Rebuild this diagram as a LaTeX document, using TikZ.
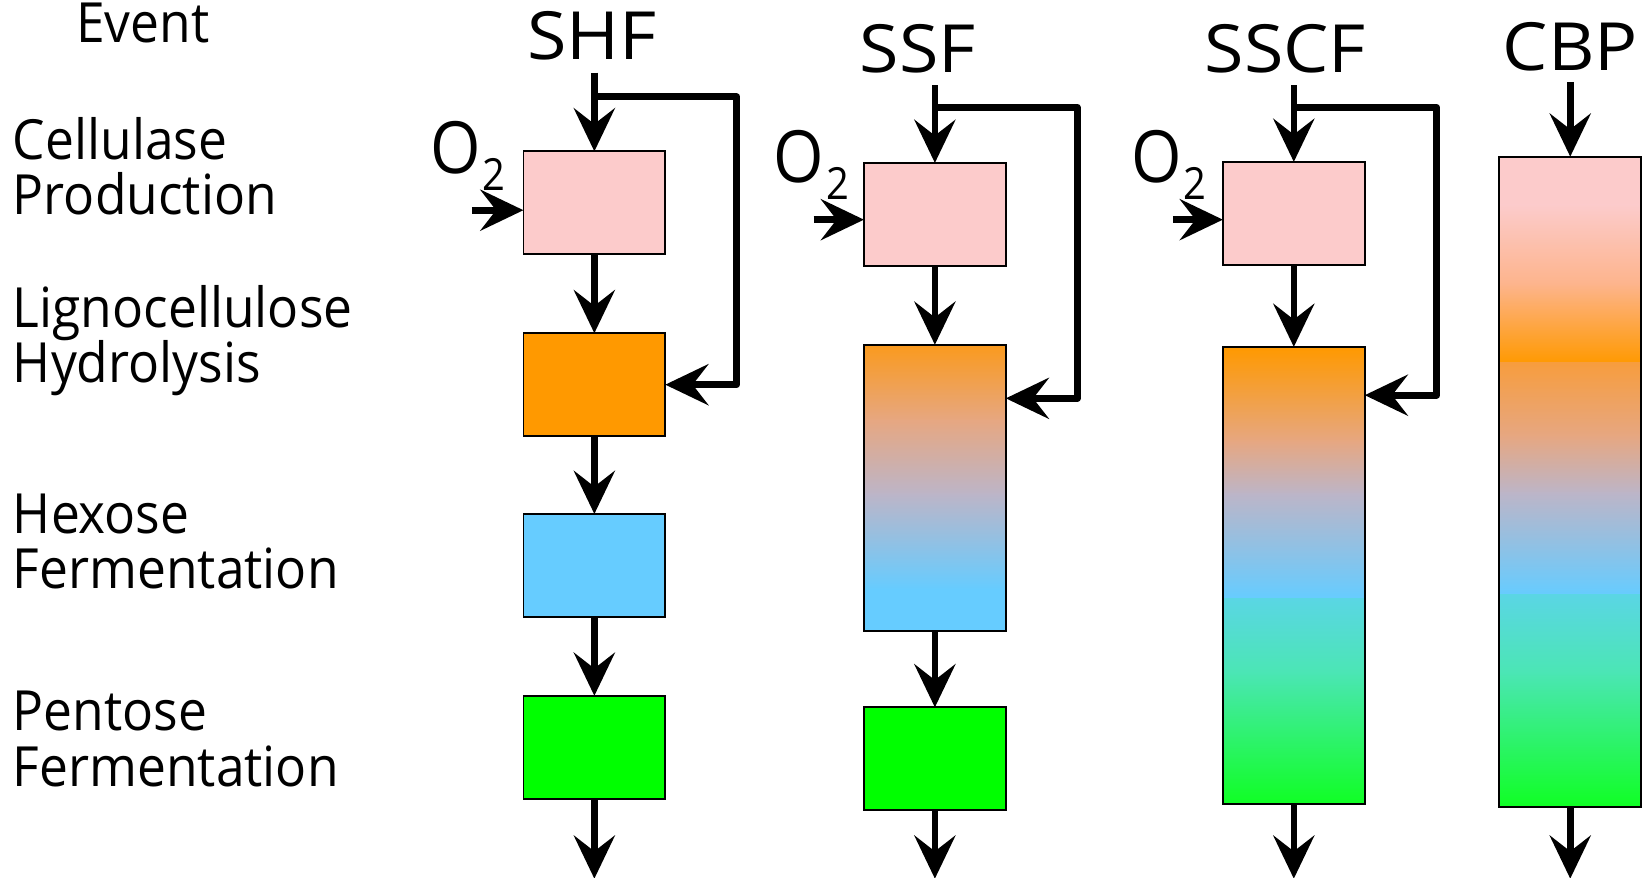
\documentclass[tikz,border=0pt]{standalone}
\usepackage{fontspec}
\setmainfont{Open Sans}
\newfontfamily\lblfont[FakeStretch=0.93]{Open Sans}
\newfontfamily\ttlfont[FakeStretch=1.08]{Open Sans}
\newfontfamily\oxfont[FakeStretch=0.9]{Open Sans}
\usetikzlibrary{arrows.meta}
\definecolor{pinkc}{RGB}{252,203,203}
\definecolor{orangec}{RGB}{255,153,0}
\definecolor{bluec}{RGB}{102,204,255}
\definecolor{greenc}{RGB}{0,255,0}
\definecolor{orangeb}{RGB}{250,154,30}
\definecolor{orangel}{RGB}{247,157,62}
\definecolor{salmonc}{RGB}{230,167,130}
\definecolor{lilacc}{RGB}{188,181,200}
\definecolor{cyanc}{RGB}{90,214,228}
\definecolor{seac}{RGB}{75,230,180}
\definecolor{greenb}{RGB}{16,255,36}
\definecolor{peachc}{RGB}{253,180,140}
\newcommand\gradseg[6]{\shade[top color=#5,bottom color=#6] (#1,#2) rectangle (#3,#4);}
\newcommand\oxtwo{O\kern1pt\raisebox{-9pt}{\fontsize{24}{24}\selectfont 2}}
\begin{document}
\begin{tikzpicture}[x=0.02cm,y=-0.02cm,
  lbl/.style={anchor=base west,inner sep=0,font=\lblfont\fontsize{30}{32}\selectfont},
  ttl/.style={anchor=base,inner sep=0,font=\ttlfont\fontsize{36}{38}\selectfont},
  oxy/.style={anchor=base west,inner sep=0,font=\oxfont\fontsize{39}{40}\selectfont},
  proc/.style={draw=black,line width=1pt,minimum width=2.7cm,inner sep=0,outer sep=0},
  flow/.style={line width=3.6pt,line join=round,-{Stealth[length=0.82cm,width=0.78cm,inset=0.3cm]}}]
\useasboundingbox (0,0) rectangle (1568,835);

% ---- row labels
\node[lbl] (ev) at (72,40) {Event};
\node[lbl] (l1a) at (12,152) {Cellulase};
\node[lbl] (l1b) at (12,204) {Production};
\node[lbl] (l2a) at (12,312) {Lignocellulose};
\node[lbl] (l2b) at (12,364) {Hydrolysis};
\node[lbl] (l3a) at (12,508) {Hexose};
\node[lbl] (l3b) at (12,560) {Fermentation};
\node[lbl] (l4a) at (12,695) {Pentose};
\node[lbl] (l4b) at (12,748) {Fermentation};

% ---- titles
\node[ttl] (tshf) at (563,57) {SHF};
\node[ttl] (tssf) at (873,69) {SSF};
\node[ttl] (tsscf) at (1223,69) {SSCF};
\node[ttl] (tcbp) at (1494,67) {CBP};

% ---- O2 labels
\node[oxy] (oshf) at (409,165) {\oxtwo};
\node[oxy] (ossf) at (736,174) {\oxtwo};
\node[oxy] (osscf) at (1076,174) {\oxtwo};

% ---- gradient fills
% SSF hydrolysis + hexose
\gradseg{822}{328}{957}{401}{orangeb}{salmonc}
\gradseg{822}{400}{957}{471}{salmonc}{lilacc}
\gradseg{822}{470}{957}{561}{lilacc}{bluec}
\fill[bluec] (822,560) rectangle (957,600);
% SSCF
\gradseg{1164}{330}{1298}{421}{orangec}{salmonc}
\gradseg{1164}{420}{1298}{471}{salmonc}{lilacc}
\gradseg{1164}{470}{1298}{569}{lilacc}{bluec}
\gradseg{1164}{569}{1298}{641}{cyanc}{seac}
\gradseg{1164}{640}{1298}{765}{seac}{greenb}
% CBP
\fill[pinkc] (1427,149) rectangle (1561,196);
\gradseg{1427}{195}{1561}{271}{pinkc}{peachc}
\gradseg{1427}{270}{1561}{346}{peachc}{orangec}
\gradseg{1427}{345}{1561}{416}{orangel}{salmonc}
\gradseg{1427}{415}{1561}{470}{salmonc}{lilacc}
\gradseg{1427}{469}{1561}{566}{lilacc}{bluec}
\gradseg{1427}{566}{1561}{641}{cyanc}{seac}
\gradseg{1427}{640}{1561}{768}{seac}{greenb}

% ---- boxes
\node[proc,fill=pinkc,minimum height=1.96cm] (shf1) at (565.5,193) {};
\node[proc,fill=orangec,minimum height=1.96cm] (shf2) at (565.5,366) {};
\node[proc,fill=bluec,minimum height=1.96cm] (shf3) at (565.5,538) {};
\node[proc,fill=greenc,minimum height=1.96cm] (shf4) at (565.5,711) {};

\node[proc,fill=pinkc,minimum height=1.96cm] (ssf1) at (889.5,204) {};
\node[proc,minimum height=5.44cm] (ssf2) at (889.5,464) {};
\node[proc,fill=greenc,minimum height=1.96cm] (ssf3) at (889.5,722) {};

\node[proc,fill=pinkc,minimum height=1.96cm] (sscf1) at (1231,203) {};
\node[proc,minimum height=8.7cm] (sscf2) at (1231,547.5) {};

\node[proc,minimum height=12.38cm] (cbp) at (1494,458.5) {};

% ---- coordinates for free ends
\coordinate (shfin) at (565.5,69);
\coordinate (shfsplit) at (565.5,92);
\coordinate (shfturn) at (701,366);
\coordinate (shfout) at (565.5,836);
\coordinate (shfox) at (449,200);

\coordinate (ssfin) at (889.5,81);
\coordinate (ssfsplit) at (889.5,102);
\coordinate (ssfturn) at (1025,379);
\coordinate (ssfout) at (889.5,836);
\coordinate (ssfox) at (774,209);

\coordinate (sscfin) at (1231,81);
\coordinate (sscfsplit) at (1231,102);
\coordinate (sscfturn) at (1367,376);
\coordinate (sscfout) at (1231,836);
\coordinate (sscfox) at (1116,209);

\coordinate (cbpin) at (1494,78);
\coordinate (cbpout) at (1494,836);

% ---- SHF connectors
\draw[flow] (shfin) -- (shf1.north);
\draw[flow] (shfsplit) -| (shfturn) -- (shfturn -| shf2.east);
\draw[flow] (shf1.south) -- (shf2.north);
\draw[flow] (shf2.south) -- (shf3.north);
\draw[flow] (shf3.south) -- (shf4.north);
\draw[flow] (shf4.south) -- (shfout);
\draw[flow] (shfox) -- (shfox -| shf1.west);

% ---- SSF connectors
\draw[flow] (ssfin) -- (ssf1.north);
\draw[flow] (ssfsplit) -| (ssfturn) -- (ssfturn -| ssf2.east);
\draw[flow] (ssf1.south) -- (ssf2.north);
\draw[flow] (ssf2.south) -- (ssf3.north);
\draw[flow] (ssf3.south) -- (ssfout);
\draw[flow] (ssfox) -- (ssfox -| ssf1.west);

% ---- SSCF connectors
\draw[flow] (sscfin) -- (sscf1.north);
\draw[flow] (sscfsplit) -| (sscfturn) -- (sscfturn -| sscf2.east);
\draw[flow] (sscf1.south) -- (sscf2.north);
\draw[flow] (sscf2.south) -- (sscfout);
\draw[flow] (sscfox) -- (sscfox -| sscf1.west);

% ---- CBP connectors
\draw[flow] (cbpin) -- (cbp.north);
\draw[flow] (cbp.south) -- (cbpout);
\end{tikzpicture}
\end{document}
